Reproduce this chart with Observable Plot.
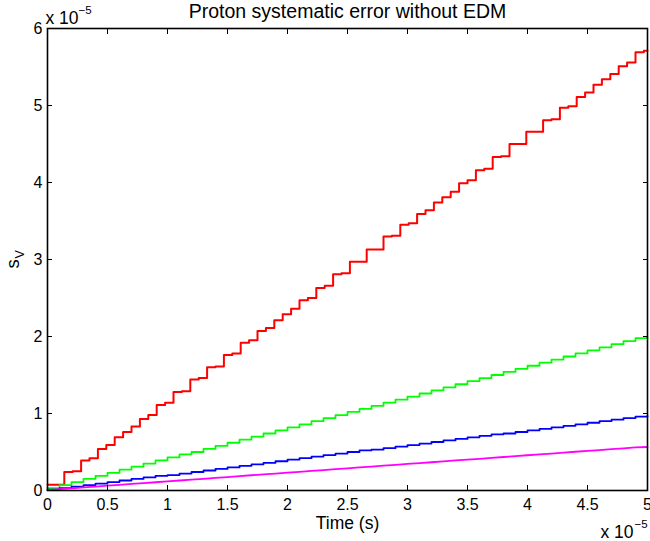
<!DOCTYPE html>
<html>
<head>
<meta charset="utf-8">
<script src="https://cdn.jsdelivr.net/npm/d3@7"></script>
<script src="https://cdn.jsdelivr.net/npm/@observablehq/plot@0.6"></script>
<style>
  html, body { margin: 0; padding: 0; background: #fff; }
  svg { display: block; }
</style>
</head>
<body>
<div id="chart"></div>
<script>
// Time axis values in units of 1e-5 s
const redTime = [0,0.07,0.14,0.21,0.28,0.35,0.42,0.49,0.56,0.63,0.70,0.77,0.84,0.91,0.98,1.05,1.12,1.19,1.26,1.33,1.40,1.47,1.54,1.61,1.68,1.75,1.82,1.89,1.96,2.03,2.10,2.17,2.24,2.31,2.38,2.45,2.52,2.59,2.66,2.73,2.80,2.87,2.94,3.01,3.08,3.15,3.22,3.29,3.36,3.43,3.50,3.57,3.64,3.71,3.78,3.85,3.92,3.99,4.06,4.13,4.20,4.27,4.34,4.41,4.48,4.55,4.62,4.69,4.76,4.83,4.90,4.97,5.00];
const redValue = [0.075,0.075,0.24,0.25,0.39,0.42,0.54,0.59,0.69,0.76,0.83,0.93,0.98,1.11,1.14,1.28,1.29,1.44,1.46,1.60,1.61,1.76,1.78,1.92,1.95,2.07,2.11,2.21,2.29,2.36,2.47,2.50,2.63,2.66,2.81,2.82,2.97,2.97,3.13,3.13,3.30,3.31,3.45,3.47,3.59,3.64,3.74,3.81,3.88,3.99,4.03,4.16,4.18,4.33,4.34,4.50,4.50,4.66,4.66,4.81,4.82,4.97,4.99,5.11,5.17,5.27,5.34,5.41,5.51,5.56,5.69,5.71,5.71];

const gridTime = [0,0.1,0.2,0.3,0.4,0.5,0.6,0.7,0.8,0.9,1.0,1.1,1.2,1.3,1.4,1.5,1.6,1.7,1.8,1.9,2.0,2.1,2.2,2.3,2.4,2.5,2.6,2.7,2.8,2.9,3.0,3.1,3.2,3.3,3.4,3.5,3.6,3.7,3.8,3.9,4.0,4.1,4.2,4.3,4.4,4.5,4.6,4.7,4.8,4.9,5.0];
const greenValue = [0.03,0.07,0.11,0.15,0.19,0.23,0.27,0.31,0.35,0.39,0.43,0.47,0.50,0.54,0.58,0.62,0.66,0.70,0.74,0.78,0.82,0.86,0.90,0.94,0.98,1.02,1.06,1.10,1.14,1.18,1.22,1.26,1.30,1.34,1.38,1.42,1.46,1.50,1.54,1.58,1.62,1.66,1.70,1.74,1.78,1.82,1.86,1.90,1.94,1.98,1.99];
const blueValue = [0.01,0.03,0.05,0.07,0.09,0.11,0.13,0.15,0.17,0.19,0.20,0.22,0.24,0.26,0.28,0.30,0.32,0.34,0.36,0.38,0.40,0.42,0.44,0.46,0.48,0.50,0.52,0.53,0.55,0.57,0.59,0.61,0.63,0.65,0.67,0.69,0.71,0.73,0.74,0.76,0.78,0.80,0.82,0.84,0.86,0.88,0.90,0.92,0.94,0.96,0.97];
const magentaValue = [0.006,0.017,0.028,0.040,0.051,0.062,0.073,0.085,0.096,0.107,0.119,0.130,0.141,0.152,0.164,0.175,0.186,0.198,0.209,0.220,0.232,0.243,0.254,0.265,0.277,0.288,0.299,0.311,0.322,0.333,0.345,0.356,0.367,0.378,0.390,0.401,0.412,0.424,0.435,0.446,0.458,0.469,0.480,0.491,0.503,0.514,0.525,0.537,0.548,0.559,0.565];

const xTicks = [0,0.5,1,1.5,2,2.5,3,3.5,4,4.5,5];
const xTickLabels = ["0","0.5","1","1.5","2","2.5","3","3.5","4","4.5","5"];
const yTicks = [0,1,2,3,4,5,6];
const yTickLabels = ["0","1","2","3","4","5","6"];

const titleText = "Proton systematic error without EDM";
const xLabel = "Time (s)";
const yLabelMain = "s";
const yLabelSub = "V";
const expBase = "x 10";
const expPower = "\u22125";

const red = redTime.map((t, i) => ({t, v: redValue[i]}));
const green = gridTime.map((t, i) => ({t, v: greenValue[i]}));
const blue = gridTime.map((t, i) => ({t, v: blueValue[i]}));
const magenta = gridTime.map((t, i) => ({t, v: magentaValue[i]}));

const xFmt = d => xTickLabels[xTicks.indexOf(d)];
const yFmt = d => yTickLabels[yTicks.indexOf(d)];

const chart = Plot.plot({
  width: 650,
  height: 541,
  marginLeft: 47,
  marginRight: 3,
  marginTop: 28,
  marginBottom: 51,
  style: {fontFamily: "'Liberation Sans', Arial, sans-serif", fontSize: "16px", color: "black", background: "white"},
  x: {domain: [0, 5], axis: null},
  y: {domain: [0, 6], axis: null},
  marks: [
    Plot.line(red, {x: "t", y: "v", curve: "step-after", stroke: "#ff0000", strokeWidth: 2}),
    Plot.line(green, {x: "t", y: "v", curve: "step-after", stroke: "#00ff00", strokeWidth: 1.8}),
    Plot.line(blue, {x: "t", y: "v", curve: "step-after", stroke: "#0000ff", strokeWidth: 1.8}),
    Plot.line(magenta, {x: "t", y: "v", stroke: "#ff00ff", strokeWidth: 1.8}),
    Plot.axisX(xTicks, {anchor: "bottom", tickSize: -5, tickPadding: 13, tickFormat: xFmt, label: null, stroke: "black"}),
    Plot.axisX(xTicks, {anchor: "top", tickSize: -5, tickFormat: () => "", label: null, stroke: "black"}),
    Plot.axisY(yTicks, {anchor: "left", tickSize: -5, tickPadding: 10, tickFormat: yFmt, label: null, stroke: "black"}),
    Plot.axisY(yTicks, {anchor: "right", tickSize: -5, tickFormat: () => "", label: null, stroke: "black"}),
    Plot.frame({stroke: "black", strokeWidth: 1.6}),
    Plot.text([titleText], {frameAnchor: "top", lineAnchor: "bottom", dy: -11, fontSize: 19.5}),
    Plot.text([xLabel], {frameAnchor: "bottom", lineAnchor: "top", dy: 26, fontSize: 17.5}),
    Plot.text([expBase], {frameAnchor: "top-left", textAnchor: "start", lineAnchor: "bottom", dx: -2, dy: -5, fontSize: 17.5}),
    Plot.text([expPower], {frameAnchor: "top-left", textAnchor: "start", lineAnchor: "bottom", dx: 31, dy: -15, fontSize: 11.5}),
    Plot.text([expBase], {frameAnchor: "bottom-right", textAnchor: "end", lineAnchor: "bottom", dx: -14, dy: 47, fontSize: 17.5}),
    Plot.text([expPower], {frameAnchor: "bottom-right", textAnchor: "start", lineAnchor: "bottom", dx: -13, dy: 37, fontSize: 11.5}),
    Plot.text([yLabelMain], {frameAnchor: "left", rotate: -90, dx: -34, dy: 9, fontSize: 18.5}),
    Plot.text([yLabelSub], {frameAnchor: "left", rotate: -90, dx: -28, dy: -1, fontSize: 12.5})
  ]
});
document.getElementById("chart").appendChild(chart);
</script>
</body>
</html>
